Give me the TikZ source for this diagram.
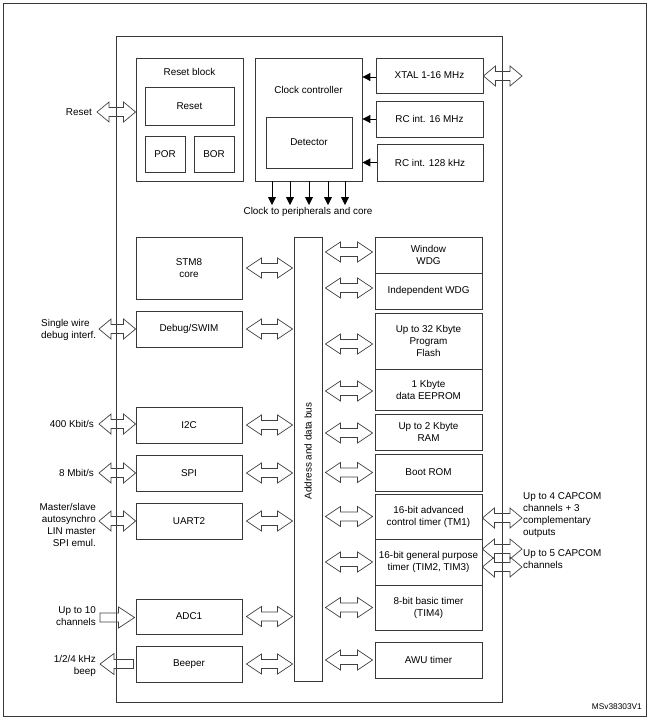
\documentclass[tikz,border=0pt]{standalone}
\usepackage{fontspec}
\setmainfont{Liberation Sans}
\usetikzlibrary{calc,arrows.meta}
\newcommand\fs{\fontsize{9.9}{12}\selectfont}
\tikzset{
  lc/.style={draw=black!78, line width=0.85pt},
  blk/.style={lc, inner sep=0pt, align=center, font=\fs},
  barrow/.style={draw=black!75, line width=0.7pt, line join=miter},
  lbl/.style={inner sep=0pt, font=\fs},
  clkarr/.style={draw=black, line width=0.9pt, -{Triangle[length=8pt,width=8pt]}},
}
\newcommand\bx[6]{\node[blk, minimum width={(#4-#2)*1pt}, minimum height={(#5-#3)*1pt}] (#1) at ({(#2+#4)/2},{(#3+#5)/2}) {#6};}
% double block arrow: #2 left end, #3 right end, #1 head length
\newcommand\dblarr[3][15pt]{\draw[barrow] let \p1=(#2), \p2=(#3) in
  (\x1,\y1) -- ({\x1+#1},\y1+10pt) -- ({\x1+#1},\y1+4.5pt) -- ({\x2-#1},\y1+4.5pt) -- ({\x2-#1},\y1+10pt) -- (\x2,\y1)
  -- ({\x2-#1},\y1-10pt) -- ({\x2-#1},\y1-4.5pt) -- ({\x1+#1},\y1-4.5pt) -- ({\x1+#1},\y1-10pt) -- cycle;}
% single block arrow: #1 tail, #2 tip, #3 head length (signed)
\newcommand\sarr[3]{\draw[barrow] let \p1=(#1), \p2=(#2) in
  (\x1,\y1+4.5pt) -- ({\x2-#3},\y1+4.5pt) -- ({\x2-#3},\y1+10.5pt) -- (\x2,\y1)
  -- ({\x2-#3},\y1-10.5pt) -- ({\x2-#3},\y1-4.5pt) -- (\x1,\y1-4.5pt) -- cycle;}
\begin{document}
\begin{tikzpicture}[x=1pt,y=-1pt]
\useasboundingbox (0,0) rectangle (649,720);
% frames
\node[lc, minimum width=643pt, minimum height=713pt, inner sep=0pt] (outer) at (324.5,359.5) {};
\node[lc, minimum width=386pt, minimum height=666pt, inner sep=0pt] (chip) at (309,369) {};
% reset block
\bx{rstblk}{136}{58}{243}{181}{}
\node[lbl] (rstlbl) at (189.5,72) {Reset block};
\bx{rst}{145}{87}{234}{125}{Reset}
\bx{por}{145}{136}{185}{172}{POR}
\bx{bor}{194}{136}{234}{172}{BOR}
% clock controller
\bx{clk}{255}{58}{362}{181}{}
\node[lbl] (clklbl) at (308.5,90) {Clock controller};
\bx{det}{266}{117}{352}{168}{Detector}
\bx{xtal}{376}{58}{483}{93}{XTAL 1-16 MHz}
\bx{rc16}{376}{101}{483}{137}{RC int. 16 MHz}
\bx{rc128}{377}{144}{483}{181}{RC int. 128 kHz}
\draw[clkarr] ($(xtal.west)+(0,1.5)$) -- ($(xtal.west -| clk.east)+(0,1.5)$);
\draw[clkarr] (rc16.west) -- (rc16.west -| clk.east);
\draw[clkarr] (rc128.west) -- (rc128.west -| clk.east);
\foreach \i/\xx in {1/272,2/290,3/309,4/328,5/345}{
  \coordinate (cko\i) at (\xx,205);
  \draw[clkarr] (cko\i |- clk.south) -- (cko\i);
}
\node[lbl] (cklbl) at (308,212) {Clock to peripherals and core};
% left column
\bx{stm8}{136}{237}{242}{299}{STM8\\core}
\bx{debug}{136}{311}{242}{347}{Debug/SWIM}
\bx{i2c}{136}{407}{242}{443}{I2C}
\bx{spi}{136}{455}{242}{491}{SPI}
\bx{uart}{136}{503}{242}{539}{UART2}
\bx{adc}{136}{599}{242}{634}{ADC1}
\bx{beep}{136}{646}{242}{682}{Beeper}
% bus
\bx{bus}{294}{237}{322}{681}{}
\node[lbl, rotate=90] (buslbl) at (308,451) {Address and data bus};
% right column
\bx{wwdg}{375}{237}{482}{273}{Window\\WDG}
\bx{iwdg}{375}{273}{482}{309}{Independent WDG}
\bx{flash}{375}{313}{482}{369}{Up to 32 Kbyte\\Program\\Flash}
\bx{eep}{375}{369}{482}{410}{1 Kbyte\\data EEPROM}
\bx{ram}{375}{414}{482}{450}{Up to 2 Kbyte\\RAM}
\bx{boot}{375}{454}{482}{491}{Boot ROM}
\bx{tm1}{375}{494}{482}{539}{16-bit advanced\\control timer (TM1)}
\bx{tim23}{375}{539}{482}{585}{16-bit general purpose\\timer (TIM2, TIM3)}
\bx{tim4}{375}{585}{482}{630}{8-bit basic timer\\(TIM4)}
\bx{awu}{375}{642}{482}{678}{AWU timer}
% bus arrows, left
\foreach \bn in {stm8,debug,i2c,spi,uart,adc,beep}{
  \dblarr{$(\bn.east)+(4,0)$}{$(\bn.east -| bus.west)+(-1,0)$}
}
% bus arrows, right
\foreach \bn/\dy in {wwdg/-3,iwdg/-3,flash/3,eep/1.5,ram/1,boot/0,tm1/0,tim23/0,tim4/0,awu/0}{
  \dblarr{$(bus.east |- \bn.west)+(3,\dy)$}{$(\bn.west)+(-2,\dy)$}
}
% outer pins, left
\coordinate (pRst) at (97,112);
\coordinate (pDbg) at (99,329);
\coordinate (pI2c) at (99,424);
\coordinate (pSpi) at (99,473);
\coordinate (pUart) at (99,521);
\coordinate (pAdc) at (100,617.5);
\coordinate (pBeep) at (100,664);
\dblarr[12pt]{pRst}{pRst -| rstblk.west}
\dblarr[12pt]{pDbg}{pDbg -| debug.west}
\dblarr[12pt]{pI2c}{pI2c -| i2c.west}
\dblarr[12pt]{pSpi}{pSpi -| spi.west}
\dblarr[12pt]{pUart}{pUart -| uart.west}
\sarr{pAdc}{$(pAdc -| adc.west)+(-1,0)$}{16pt}
\sarr{$(pBeep -| beep.west)+(-2,0)$}{pBeep}{-14pt}
% outer pins, right
\coordinate (pXtal) at (522,76);
\coordinate (pTm1) at (522,518);
\coordinate (pTimA) at (522,549);
\coordinate (pTimB) at (522,567);
\dblarr[12pt]{pXtal -| xtal.east}{pXtal}
\dblarr[12pt]{pTm1 -| tm1.east}{pTm1}
\dblarr[12pt]{pTimA -| tim23.east}{pTimA}
\dblarr[12pt]{pTimB -| tim23.east}{pTimB}
% left labels
\node[lbl, anchor=east] (lRst) at (92,112) {Reset};
\node[lbl, anchor=west, align=left] (lDbg) at (41,330) {Single wire\\debug interf.};
\node[lbl, anchor=east] (lI2c) at (94,424) {400 Kbit/s};
\node[lbl, anchor=east] (lSpi) at (94,473) {8 Mbit/s};
\node[lbl, anchor=east, align=right] (lUart) at (96,525) {Master/slave\\autosynchro\\LIN master\\SPI emul.};
\node[lbl, anchor=east, align=right] (lAdc) at (96,616) {Up to 10\\channels};
\node[lbl, anchor=east, align=right] (lBeep) at (96,666) {1/2/4 kHz\\beep};
% right labels
\node[lbl, anchor=west, align=left] (lTm1) at (523,515) {Up to 4 CAPCOM\\channels + 3\\complementary\\outputs};
\node[lbl, anchor=west, align=left] (lTim) at (523,559.5) {Up to 5 CAPCOM\\channels};
\node[inner sep=0pt, anchor=east, font=\fontsize{8.3}{10}\selectfont] (ref) at (642,707) {MSv38303V1};
\end{tikzpicture}
\end{document}
